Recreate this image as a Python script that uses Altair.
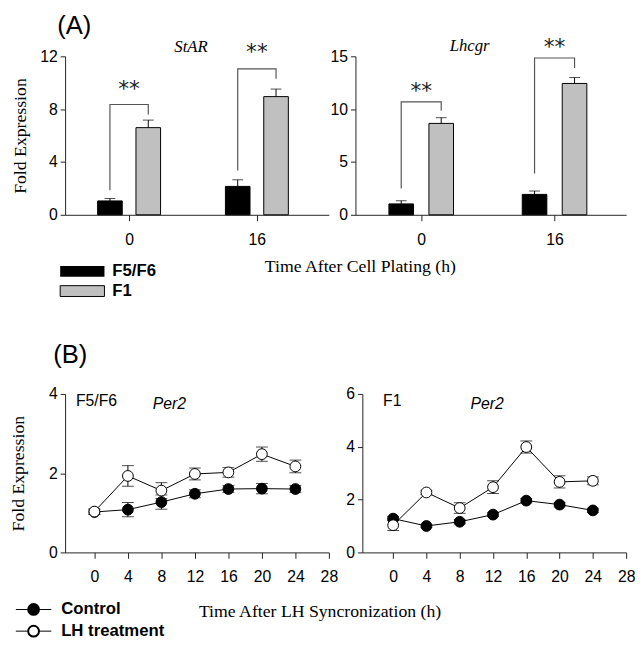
import altair as alt
import pandas as pd

SANS = "Liberation Sans"
SERIF = "Liberation Serif"

# ---------------- Panel A data ----------------
a_times = [0, 16]
a_groups = ["F5/F6", "F1"]
a_colors = ["black", "#c0c0c0"]

starr_f56 = [1.05, 2.15]
starr_f56_err = [0.18, 0.50]
starr_f1 = [6.60, 8.95]
starr_f1_err = [0.57, 0.57]

lhcgr_f56 = [1.03, 1.93]
lhcgr_f56_err = [0.30, 0.32]
lhcgr_f1 = [8.65, 12.43]
lhcgr_f1_err = [0.54, 0.56]

# significance brackets: left foot, top, right foot, star level
starr_br_left = [1.86, 3.35]
starr_br_top = [8.35, 11.05]
starr_br_right = [7.60, 10.30]
starr_star = [9.5, 12.3]

lhcgr_br_left = [2.50, 3.90]
lhcgr_br_top = [10.69, 14.84]
lhcgr_br_right = [9.84, 13.90]
lhcgr_star = [11.7, 15.9]

# ---------------- Panel B data ----------------
b_times = [0, 4, 8, 12, 16, 20, 24]
b_ticks = [0, 4, 8, 12, 16, 20, 24, 28]
b_series = ["Control", "LH treatment"]

f56_ctrl = [1.02, 1.08, 1.27, 1.48, 1.60, 1.61, 1.60]
f56_ctrl_err = [0.06, 0.18, 0.18, 0.10, 0.09, 0.13, 0.09]
f56_lh = [1.03, 1.93, 1.56, 1.98, 2.02, 2.48, 2.17]
f56_lh_err = [0.07, 0.26, 0.20, 0.15, 0.12, 0.18, 0.16]

f1_ctrl = [1.28, 1.00, 1.16, 1.43, 1.96, 1.81, 1.59]
f1_ctrl_err = [0.08, 0.06, 0.08, 0.07, 0.08, 0.08, 0.08]
f1_lh = [1.03, 2.27, 1.68, 2.47, 3.99, 2.67, 2.71]
f1_lh_err = [0.20, 0.08, 0.20, 0.24, 0.23, 0.23, 0.15]

OFF = 2.4  # half distance between paired bars, in hours


def txt(label, x, y, size=16, font=SANS, weight="normal", style="normal",
        align="left", baseline="middle", angle=0, color="black"):
    return alt.Chart(pd.DataFrame({"label": [label]})).mark_text(
        font=font, fontSize=size, fontWeight=weight, fontStyle=style,
        align=align, baseline=baseline, color=color, angle=angle
    ).encode(x=alt.value(x), y=alt.value(y), text="label:N")


def bar_panel(gene, f56, f56e, f1, f1e, brl, brt, brr, stars, ymax, yvals,
              xdom, width, ytitle):
    rows = []
    for i, t in enumerate(a_times):
        rows.append({"time": t, "group": a_groups[0], "value": f56[i], "err": f56e[i]})
        rows.append({"time": t, "group": a_groups[1], "value": f1[i], "err": f1e[i]})
    df = pd.DataFrame(rows)
    base = alt.Chart(df).transform_calculate(
        xc=f"datum.time + (datum.group == 'F5/F6' ? {-OFF} : {OFF})",
        hi="datum.value + datum.err",
    )
    xax = alt.Axis(values=a_times, title=None, tickSize=6, labelPadding=11,
                   tickCount=20, labelFlush=False, labelOverlap=False, format="d")
    if ytitle:
        yax = alt.Axis(values=yvals, title=ytitle, tickSize=5, labelPadding=3,
                       tickCount=20, titlePadding=10, labelOverlap=False, format="d")
    else:
        yax = alt.Axis(values=yvals, title=None, tickSize=5, labelPadding=3,
                       tickCount=20, labelOverlap=False, format="d")
    xs = alt.Scale(domain=xdom, nice=False, zero=False)
    ys = alt.Scale(domain=[0, ymax], nice=False)

    bars = base.mark_bar(size=25, stroke="black", strokeWidth=1).encode(
        x=alt.X("xc:Q", scale=xs, axis=xax),
        y=alt.Y("value:Q", scale=ys, axis=yax),
        color=alt.Color("group:N", scale=alt.Scale(domain=a_groups, range=a_colors),
                        legend=None),
    )
    err = base.mark_rule(color="black", strokeWidth=1).encode(
        x="xc:Q", y="value:Q", y2="hi:Q")
    cap = base.mark_tick(orient="horizontal", size=11, thickness=1, color="black").encode(
        x="xc:Q", y="hi:Q")

    brows = []
    for i, t in enumerate(a_times):
        brows += [
            {"time": t, "ord": 0, "x": t - OFF, "y": brl[i]},
            {"time": t, "ord": 1, "x": t - OFF, "y": brt[i]},
            {"time": t, "ord": 2, "x": t + OFF, "y": brt[i]},
            {"time": t, "ord": 3, "x": t + OFF, "y": brr[i]},
        ]
    bracket = alt.Chart(pd.DataFrame(brows)).mark_line(
        color="#555555", strokeWidth=1.2).encode(
        x="x:Q", y="y:Q", detail="time:N", order="ord:Q")
    sdf = pd.DataFrame({"time": a_times, "y": stars, "s": ["**", "**"]})
    star = alt.Chart(sdf).mark_text(font="DejaVu Sans", fontSize=22,
                                     baseline="middle", color="#222222").encode(
        x="time:Q", y="y:Q", text="s:N")
    return alt.layer(bars, err, cap, bracket, star).properties(width=width, height=161)


A_left = bar_panel("StAR", starr_f56, starr_f56_err, starr_f1, starr_f1_err,
                   starr_br_left, starr_br_top, starr_br_right, starr_star,
                   12, [0, 4, 8, 12], [-7.4, 24.4], 268, "Fold Expression")
A_left = alt.layer(
    A_left,
    txt("(A)", -8, -44, size=26, baseline="top"),
    txt("StAR", 128, -9, size=17, font=SERIF, style="italic", align="center"),
    txt("Time After Cell Plating (h)", 300, 214, size=18, font=SERIF, align="center"),
    alt.Chart(pd.DataFrame({"g": [a_groups[0]]})).mark_rect(color="black").encode(
        x=alt.value(-5), x2=alt.value(40), y=alt.value(213), y2=alt.value(224)),
    alt.Chart(pd.DataFrame({"g": [a_groups[1]]})).mark_rect(
        color=a_colors[1], stroke="black", strokeWidth=1).encode(
        x=alt.value(-5), x2=alt.value(40), y=alt.value(233), y2=alt.value(244)),
    txt(a_groups[0], 48, 218.5, size=17, weight="bold"),
    txt(a_groups[1], 48, 238.5, size=17, weight="bold"),
)

A_right = bar_panel("Lhcgr", lhcgr_f56, lhcgr_f56_err, lhcgr_f1, lhcgr_f1_err,
                    lhcgr_br_left, lhcgr_br_top, lhcgr_br_right, lhcgr_star,
                    15, [0, 5, 10, 15], [-7.3, 24.0], 275, None)
A_right = alt.layer(
    A_right,
    txt("Lhcgr", 116, -10, size=17, font=SERIF, style="italic", align="center"),
)


def line_panel(ctrl, ctrle, lh, lhe, ymax, yvals, xdom, ytitle):
    rows = []
    for i, t in enumerate(b_times):
        rows.append({"time": t, "series": b_series[0], "value": ctrl[i], "err": ctrle[i], "k": 0})
        rows.append({"time": t, "series": b_series[1], "value": lh[i], "err": lhe[i], "k": 1})
    df = pd.DataFrame(rows)
    base = alt.Chart(df).transform_calculate(
        lo="datum.value - datum.err", hi="datum.value + datum.err")
    xs = alt.Scale(domain=xdom, nice=False, zero=False)
    ys = alt.Scale(domain=[0, ymax], nice=False)
    xax = alt.Axis(values=b_ticks, title=None, tickSize=6, labelPadding=11,
                   tickCount=20, labelFlush=False, labelOverlap=False, format="d")
    if ytitle:
        yax = alt.Axis(values=yvals, title=ytitle, tickSize=5, labelPadding=3,
                       tickCount=20, titlePadding=21, labelOverlap=False, format="d")
    else:
        yax = alt.Axis(values=yvals, title=None, tickSize=5, labelPadding=3,
                       tickCount=20, labelOverlap=False, format="d")
    lines = base.mark_line(color="black", strokeWidth=1).encode(
        x=alt.X("time:Q", scale=xs, axis=xax),
        y=alt.Y("value:Q", scale=ys, axis=yax),
        detail="series:N")
    err = base.mark_rule(color="black", strokeWidth=1).encode(
        x="time:Q", y="lo:Q", y2="hi:Q")
    cap_hi = base.mark_tick(orient="horizontal", size=12, thickness=1, color="black").encode(
        x="time:Q", y="hi:Q")
    cap_lo = base.mark_tick(orient="horizontal", size=12, thickness=1, color="black").encode(
        x="time:Q", y="lo:Q")
    pts = base.mark_point(filled=True, size=120, stroke="black", strokeWidth=1,
                          opacity=1).encode(
        x="time:Q", y="value:Q",
        fill=alt.Fill("series:N", scale=alt.Scale(domain=b_series, range=["black", "white"]),
                      legend=None),
        order="k:Q")
    return alt.layer(lines, err, cap_hi, cap_lo, pts).properties(width=268, height=161)


B_left = line_panel(f56_ctrl, f56_ctrl_err, f56_lh, f56_lh_err, 4, [0, 2, 4],
                    [-3.5, 28], "Fold Expression")
B_left = alt.layer(
    B_left,
    txt("(B)", -12, -52, size=26, baseline="top"),
    txt("F5/F6", 11, 7, size=16),
    txt("Per2", 89, 10, size=16, style="italic"),
    txt("Time After LH Syncronization (h)", 259, 222, size=18, font=SERIF, align="center"),
    alt.Chart(pd.DataFrame({"s": [b_series[0]]})).mark_rule(color="black").encode(
        x=alt.value(-50), x2=alt.value(-14), y=alt.value(219)),
    alt.Chart(pd.DataFrame({"s": [b_series[1]]})).mark_rule(color="black").encode(
        x=alt.value(-50), x2=alt.value(-14), y=alt.value(241)),
    alt.Chart(pd.DataFrame({"s": [b_series[0]]})).mark_point(
        filled=True, size=120, fill="black", stroke="black", opacity=1).encode(
        x=alt.value(-32), y=alt.value(219)),
    alt.Chart(pd.DataFrame({"s": [b_series[1]]})).mark_point(
        filled=True, size=120, fill="white", stroke="black", opacity=1).encode(
        x=alt.value(-32), y=alt.value(241)),
    txt(b_series[0], -4, 219, size=17, weight="bold"),
    txt(b_series[1], -4, 241, size=17, weight="bold"),
)

B_right = line_panel(f1_ctrl, f1_ctrl_err, f1_lh, f1_lh_err, 6, [0, 2, 4, 6],
                     [-3.7, 28], None)
B_right = alt.layer(
    B_right,
    txt("F1", 21, 7, size=16),
    txt("Per2", 110, 10, size=16, style="italic"),
)

rowA = alt.hconcat(A_left, A_right, spacing=27, bounds="flush")
rowB = alt.hconcat(B_left, B_right, spacing=34, bounds="flush")

# nested rows count as zero height in a flush layout, so spacing = row height + gap
chart = alt.vconcat(rowA, rowB, spacing=343, bounds="flush").properties(
    padding={"left": 2, "top": 0, "right": 0, "bottom": 0}
).configure_view(stroke=None).configure_axis(
    domainColor="#222222", tickColor="#222222", labelColor="black",
    labelFont=SANS, labelFontSize=16, titleFont=SERIF, titleFontSize=18,
    titleFontWeight="normal", titleColor="black", grid=False,
)

chart.save("out.html", embed_options={"renderer": "svg", "actions": False})
